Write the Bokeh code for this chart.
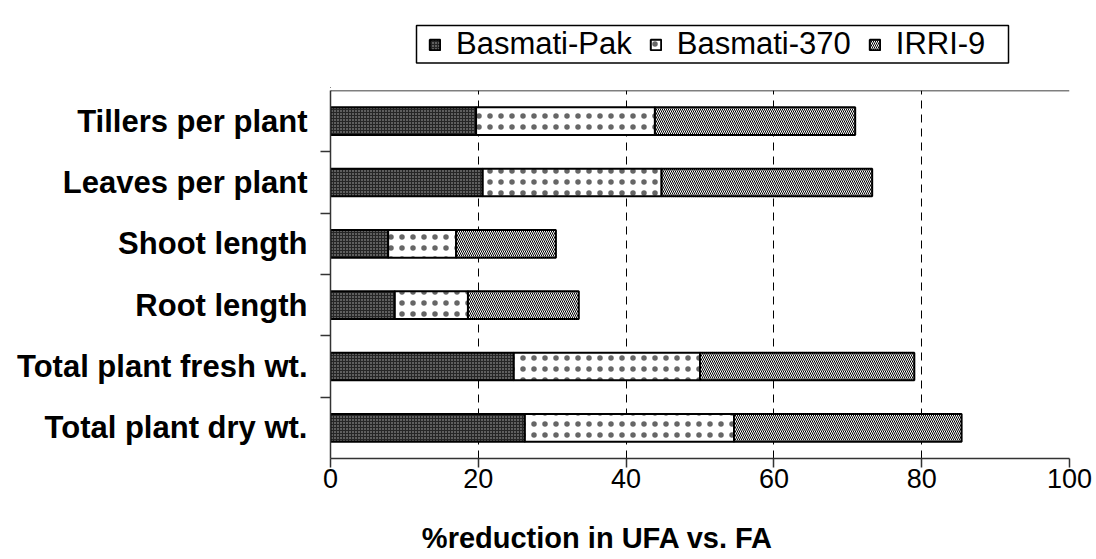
from bokeh.plotting import figure
from bokeh.layouts import column
from bokeh.models import (Range1d, FixedTicker, Legend, LegendItem, Span, Title,
                          ColumnDataSource)
from bokeh.embed import file_html
from bokeh.resources import INLINE

# ---- data (top to bottom as drawn) ----
categories = ["Tillers per plant", "Leaves per plant", "Shoot length",
              "Root length", "Total plant fresh wt.", "Total plant dry wt."]
basmati_pak = [19.7, 20.6, 7.8, 8.7, 24.8, 26.3]
basmati_370 = [24.2, 24.2, 9.2, 9.9, 25.2, 28.3]
irri_9 = [27.1, 28.5, 13.5, 15.0, 29.0, 30.8]
x_ticks = [0, 20, 40, 60, 80, 100]
series_names = ["Basmati-Pak", "Basmati-370", "IRRI-9"]
x_title = "%reduction in UFA vs. FA"

n = len(categories)
ypos = [n - i - 0.5 for i in range(n)]
left1 = [0] * n
right1 = [a for a in basmati_pak]
right2 = [a + b for a, b in zip(basmati_pak, basmati_370)]
right3 = [a + b + c for a, b, c in zip(basmati_pak, basmati_370, irri_9)]

FONT = "Liberation Sans"
W = 1096
H_LEG = 88
H_TTL = 50
H_MAIN = 559 - H_LEG - H_TTL
FRAME_L, FRAME_R = 330, 1069

styles = [
    dict(fill_color="#262626", line_color="black", line_width=2,
         hatch_pattern="dot", hatch_color="#b4b4b4", hatch_scale=3, hatch_weight=1),
    dict(fill_color="white", line_color="black", line_width=2,
         hatch_pattern="dot", hatch_color="#666666", hatch_scale=11, hatch_weight=1),
    dict(fill_color="white", line_color="black", line_width=2,
         hatch_pattern="left_diagonal_line", hatch_color="black", hatch_scale=4,
         hatch_weight=1),
]

# ---------------- main chart ----------------
p = figure(width=W, height=H_MAIN, output_backend="svg", toolbar_location=None,
           x_range=Range1d(0, 100), y_range=Range1d(0, n),
           min_border_left=FRAME_L, min_border_right=W - FRAME_R, min_border_top=2,
           min_border_bottom=H_MAIN - 370)
p.outline_line_color = None
p.background_fill_color = "white"
p.border_fill_color = "white"

src = ColumnDataSource(dict(y=ypos, l1=left1, r1=right1, r2=right2, r3=right3))

h = 0.45
p.hbar(y="y", left="l1", right="r1", height=h, source=src, **styles[0])
p.hbar(y="y", left="r1", right="r2", height=h, source=src, **styles[1])
p.hbar(y="y", left="r2", right="r3", height=h, source=src, **styles[2])

p.ygrid.visible = False
p.xgrid.ticker = FixedTicker(ticks=x_ticks[1:])
p.xgrid.grid_line_color = "black"
p.xgrid.grid_line_dash = "8 6"
p.xgrid.grid_line_width = 1

p.add_layout(Span(location=n, dimension="width", line_color="black", line_width=1.5))

p.xaxis.ticker = FixedTicker(ticks=x_ticks)
p.xaxis.major_label_text_font = FONT
p.xaxis.major_label_text_font_size = "27px"
p.xaxis.major_label_text_color = "black"
p.xaxis.major_tick_out = 9
p.xaxis.major_tick_in = 0
p.xaxis.minor_tick_line_color = None
p.xaxis.axis_line_color = "#333333"
p.xaxis.axis_line_width = 1.5
p.xaxis.major_tick_line_color = "#333333"
p.xaxis.major_tick_line_width = 1.5
p.xaxis.major_label_standoff = 1

p.yaxis.ticker = FixedTicker(ticks=ypos, minor_ticks=[1, 2, 3, 4, 5])
p.yaxis.major_label_overrides = {y: c for y, c in zip(ypos, categories)}
p.yaxis.major_label_text_font = FONT
p.yaxis.major_label_text_font_style = "bold"
p.yaxis.major_label_text_font_size = "31px"
p.yaxis.major_label_text_color = "black"
p.yaxis.major_tick_line_color = None
p.yaxis.major_tick_out = 0
p.yaxis.major_tick_in = 0
p.yaxis.major_label_standoff = 13
p.yaxis.minor_tick_out = 10
p.yaxis.minor_tick_in = 0
p.yaxis.minor_tick_line_color = "#333333"
p.yaxis.minor_tick_line_width = 1.5
p.yaxis.axis_line_color = "#333333"
p.yaxis.axis_line_width = 1.5

# ---------------- x-axis title strip ----------------
tt = figure(width=W, height=H_TTL, output_backend="svg", toolbar_location=None,
            x_range=Range1d(FRAME_L, FRAME_R), y_range=Range1d(0, H_TTL),
            x_axis_type=None, y_axis_type=None,
            min_border_left=FRAME_L, min_border_right=W - FRAME_R,
            min_border_top=0, min_border_bottom=0)
tt.outline_line_color = None
tt.xgrid.visible = False
tt.ygrid.visible = False
tt.text(x=[597], y=[559 - 537], text=[x_title], text_font={"value": FONT},
        text_font_style="bold", text_font_size="29px", text_color="black",
        text_align="center", text_baseline="middle")

# ---------------- legend strip (ranges in pixels) ----------------
lg = figure(width=W, height=H_LEG, output_backend="svg", toolbar_location=None,
            x_range=Range1d(FRAME_L, FRAME_R), y_range=Range1d(0, H_LEG),
            x_axis_type=None, y_axis_type=None,
            min_border_left=FRAME_L, min_border_right=W - FRAME_R,
            min_border_top=0, min_border_bottom=0)
lg.outline_line_color = None
lg.xgrid.visible = False
lg.ygrid.visible = False
hidden = ColumnDataSource(dict(y=[-1000], l=[0], r=[1]))
leg_rs = [lg.hbar(y="y", left="l", right="r", height=1, source=hidden, **s)
          for s in styles]
# legend frame box
lg.quad(left=[416], right=[1008], top=[H_LEG - 25], bottom=[H_LEG - 62.5],
        fill_color=None, line_color="black", line_width=1.5)

legend = Legend(items=[LegendItem(label=nm, renderers=[r])
                       for nm, r in zip(series_names, leg_rs)],
                orientation="horizontal", location=(98, 26))
legend.label_text_font = FONT
legend.label_text_font_size = "31px"
legend.label_text_color = "black"
legend.glyph_width = 13
legend.glyph_height = 13
legend.label_standoff = 15
legend.spacing = 17
legend.padding = 0
legend.margin = 0
legend.border_line_color = None
legend.background_fill_alpha = 0
lg.add_layout(legend, "center")

layout = column(lg, p, tt, spacing=0)
open("out.html", "w").write(file_html(layout, INLINE))
